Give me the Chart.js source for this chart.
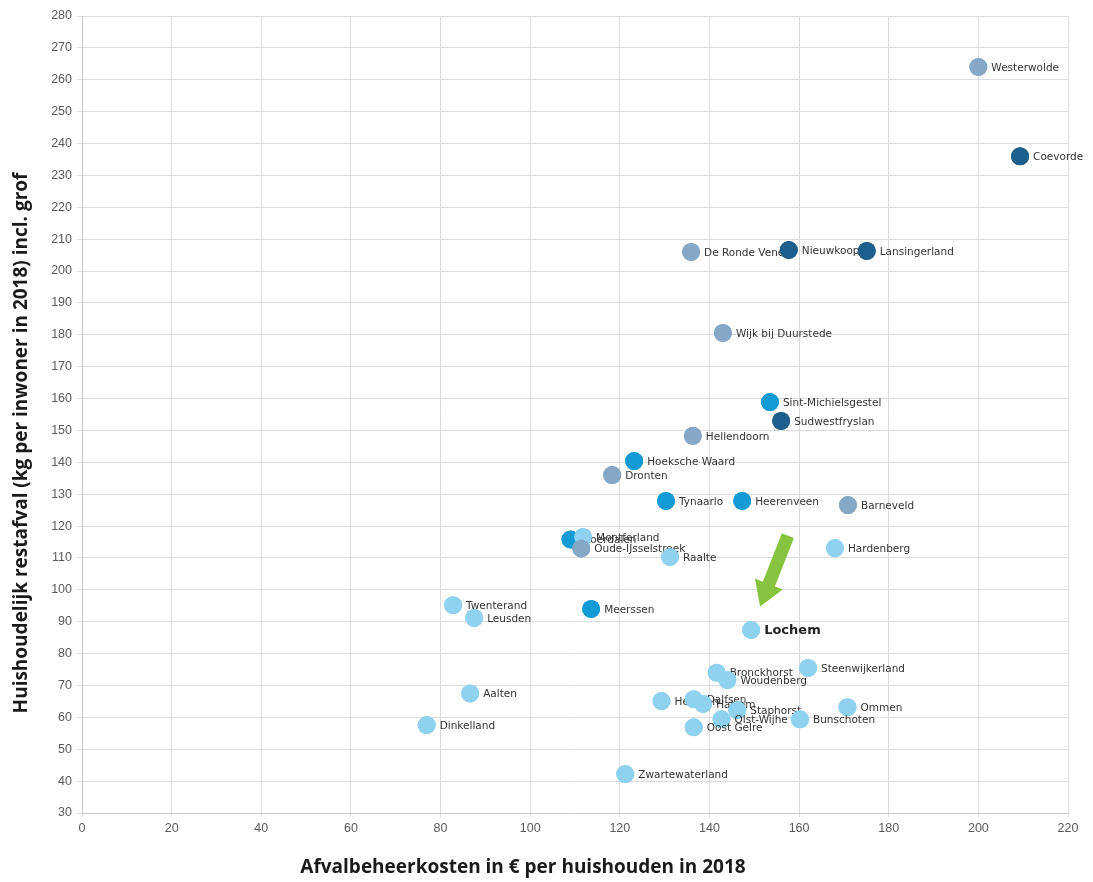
<!DOCTYPE html>
<html>
<head>
<meta charset="utf-8">
<script src="https://cdn.jsdelivr.net/npm/chart.js@4"></script>
<style>
  html, body { margin: 0; padding: 0; background: #fff; }
  #wrap { width: 1093px; height: 882px; position: relative; }
</style>
</head>
<body>
<div id="wrap"><canvas id="grafiek"></canvas></div>
<script>
// gemeenten, kosten (x) en restafval (y), kleurgroep per gemeente
const gemeenten = [
  "Westerwolde", "Coevorde", "De Ronde Venen", "Nieuwkoop", "Lansingerland",
  "Wijk bij Duurstede", "Sint-Michielsgestel", "Sudwestfryslan", "Hellendoorn",
  "Hoeksche Waard", "Dronten", "Tynaarlo", "Heerenveen", "Barneveld",
  "Roerdalen", "Montferland", "Oude-IJsselstreek", "Raalte", "Hardenberg",
  "Twenterand", "Leusden", "Meerssen", "Lochem", "Steenwijkerland",
  "Bronckhorst", "Woudenberg", "Aalten", "Heumen", "Dalfsen", "Hattem",
  "Staphorst", "Ommen", "Olst-Wijhe", "Bunschoten", "Oost Gelre",
  "Dinkelland", "Zwartewaterland"
];
const kosten = [
  200, 209.3, 135.9, 157.7, 175.1,
  143, 153.5, 156, 136.3,
  123.2, 118.3, 130.3, 147.3, 170.9,
  109, 111.8, 111.4, 131.2, 168,
  82.8, 87.5, 113.6, 149.3, 162,
  141.6, 144, 86.6, 129.3, 136.5, 138.6,
  146.2, 170.8, 142.7, 160.2, 136.5,
  76.9, 121.2
];
const restafval = [
  264, 236, 206, 206.6, 206.3,
  180.6, 158.9, 153, 148.3,
  140.4, 136, 127.9, 127.9, 126.6,
  115.8, 116.6, 113, 110.3, 113.1,
  95.2, 91.2, 94, 87.4, 75.5,
  74, 71.7, 67.5, 65.1, 65.7, 64.2,
  62.3, 63.2, 59.4, 59.4, 56.9,
  57.6, 42.2
];
// 0 = lichtblauw, 1 = blauw, 2 = donkerblauw, 3 = grijsblauw
const groep = [
  3, 2, 3, 2, 2,
  3, 1, 2, 3,
  1, 3, 1, 1, 3,
  1, 0, 3, 0, 0,
  0, 0, 1, 0, 0,
  0, 0, 0, 0, 0, 0,
  0, 0, 0, 0, 0,
  0, 0
];
const kleuren = ["#8ed2f0", "#129bd5", "#1c5f8d", "#84a8c5"];
const xTicks = [0, 20, 40, 60, 80, 100, 120, 140, 160, 180, 200, 220];
const yTicks = [30, 40, 50, 60, 70, 80, 90, 100, 110, 120, 130, 140, 150, 160, 170, 180, 190, 200, 210, 220, 230, 240, 250, 260, 270, 280];
// pijl naar Lochem: van [x, y] naar [x, y] in data-eenheden
const pijlStart = [157.5, 117];
const pijlEind = [151.3, 94.8];

const xTitel = "Afvalbeheerkosten in € per huishouden in 2018";
const yTitel = "Huishoudelijk restafval (kg per inwoner in 2018) incl. grof";

const labelsPlugin = {
  id: "labels",
  afterDatasetsDraw(chart) {
    const ctx = chart.ctx;
    const meta = chart.getDatasetMeta(0);
    const xs = chart.scales.x, ys = chart.scales.y;

    // pijl
    const x1 = xs.getPixelForValue(pijlStart[0]), y1 = ys.getPixelForValue(pijlStart[1]);
    const x2 = xs.getPixelForValue(pijlEind[0]), y2 = ys.getPixelForValue(pijlEind[1]);
    const hoek = Math.atan2(y2 - y1, x2 - x1);
    const len = Math.hypot(x2 - x1, y2 - y1);
    ctx.save();
    ctx.translate(x1, y1);
    ctx.rotate(hoek);
    ctx.fillStyle = "#86c440";
    ctx.beginPath();
    ctx.moveTo(0, -6.5);
    ctx.lineTo(len - 24, -6.5);
    ctx.lineTo(len - 24, -15);
    ctx.lineTo(len, 0);
    ctx.lineTo(len - 24, 15);
    ctx.lineTo(len - 24, 6.5);
    ctx.lineTo(0, 6.5);
    ctx.closePath();
    ctx.fill();
    ctx.restore();

    // punten opnieuw tekenen met label, zodat latere punten labels bedekken
    meta.data.forEach((pt, i) => {
      pt.draw(ctx);
      ctx.save();
      ctx.textBaseline = "middle";
      if (gemeenten[i] === "Lochem") {
        ctx.font = "bold 13px 'DejaVu Sans'";
        ctx.fillStyle = "#222";
      } else {
        ctx.font = "10.5px 'DejaVu Sans'";
        ctx.fillStyle = "#333";
      }
      ctx.fillText(gemeenten[i], pt.x + 13, pt.y + 1);
      ctx.restore();
    });

    // astitels
    ctx.save();
    ctx.fillStyle = "#1a1a1a";
    ctx.font = "bold 19px 'Open Sans'";
    ctx.textAlign = "center";
    ctx.textBaseline = "middle";
    ctx.fillText(xTitel, 523, 868);
    ctx.translate(22, 443);
    ctx.rotate(-Math.PI / 2);
    ctx.fillText(yTitel, 0, 0);
    ctx.restore();
  }
};

const punten = kosten.map((x, i) => ({ x: x, y: restafval[i] }));

new Chart(document.getElementById("grafiek"), {
  type: "scatter",
  data: {
    datasets: [{
      data: punten,
      backgroundColor: groep.map(g => kleuren[g]),
      borderWidth: 0,
      pointRadius: 9,
      pointHoverRadius: 9
    }]
  },
  options: {
    responsive: true,
    maintainAspectRatio: false,
    animation: false,
    events: [],
    layout: { padding: { top: 16, right: 25, left: 0, bottom: 0 } },
    plugins: { legend: { display: false }, tooltip: { enabled: false } },
    scales: {
      x: {
        type: "linear",
        min: 0, max: 220,
        afterBuildTicks: s => { s.ticks = xTicks.map(v => ({ value: v })); },
        afterFit: s => { s.height = 69; },
        grid: { color: "#dcdcdc", tickLength: 4 },
        border: { color: "#c8c8c8" },
        ticks: { color: "#595959", font: { family: "Liberation Sans", size: 12.5 }, padding: 4, maxRotation: 0 }
      },
      y: {
        type: "linear",
        min: 30, max: 280,
        afterBuildTicks: s => { s.ticks = yTicks.map(v => ({ value: v })); },
        afterFit: s => { s.width = 82; },
        grid: { color: "#dcdcdc", tickLength: 5 },
        border: { color: "#c8c8c8" },
        ticks: { color: "#595959", font: { family: "Liberation Sans", size: 12.5 }, padding: 5 }
      }
    }
  },
  plugins: [labelsPlugin]
});
</script>
</body>
</html>
